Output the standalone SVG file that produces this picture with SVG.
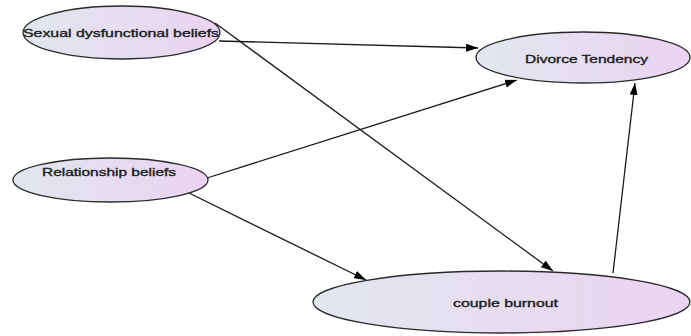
<svg xmlns="http://www.w3.org/2000/svg" width="691" height="336" viewBox="0 0 691 336">
  <defs>
    <linearGradient id="fill" x1="0" y1="0" x2="1" y2="0">
      <stop offset="0" stop-color="#e1e7ee"/>
      <stop offset="1" stop-color="#ebd3f2"/>
    </linearGradient>
    <marker id="arrow" viewBox="0 0 12 8" refX="12" refY="4" markerWidth="12" markerHeight="8" markerUnits="userSpaceOnUse" orient="auto">
      <path d="M0,0 L12,4 L0,8 Z" fill="#000"/>
    </marker>
    <style>
      .node ellipse { fill: url(#fill); stroke: #2a2a2a; stroke-width: 1.3; }
      .node text { font-family: "Liberation Sans", Arial, sans-serif; font-size: 11.5px; fill: #1a1a1a; stroke: #1a1a1a; stroke-width: 0.35; text-anchor: middle; }
      .edge { stroke: #1a1a1a; stroke-width: 1.3; fill: none; marker-end: url(#arrow); }
    </style>
  </defs>
  <rect width="691" height="336" fill="#fff"/>
  <g id="connectors">
    <line class="edge" x1="219" y1="41" x2="478" y2="48" stroke="#555"/>
    <line class="edge" x1="215" y1="23" x2="553" y2="271"/>
    <line class="edge" x1="207" y1="178" x2="517" y2="80"/>
    <line class="edge" x1="187" y1="192" x2="366" y2="280"/>
    <line class="edge" x1="613" y1="273" x2="635" y2="83"/>
  </g>
  <g id="node-sexual" class="node">
    <ellipse cx="121.5" cy="32.5" rx="98.5" ry="26.5"/>
    <text x="121" y="37" textLength="196" lengthAdjust="spacingAndGlyphs">Sexual dysfunctional beliefs</text>
  </g>
  <g id="node-divorce" class="node">
    <ellipse cx="583" cy="57.5" rx="107" ry="25.5"/>
    <text x="586.5" y="62.5" textLength="123" lengthAdjust="spacingAndGlyphs">Divorce Tendency</text>
  </g>
  <g id="node-relationship" class="node">
    <ellipse cx="110.5" cy="180" rx="97.5" ry="22"/>
    <text x="109" y="176" textLength="134" lengthAdjust="spacingAndGlyphs">Relationship beliefs</text>
  </g>
  <g id="node-burnout" class="node">
    <ellipse cx="501.5" cy="302" rx="188.5" ry="31"/>
    <text x="505.5" y="306.5" textLength="105" lengthAdjust="spacingAndGlyphs">couple burnout</text>
  </g>
</svg>
